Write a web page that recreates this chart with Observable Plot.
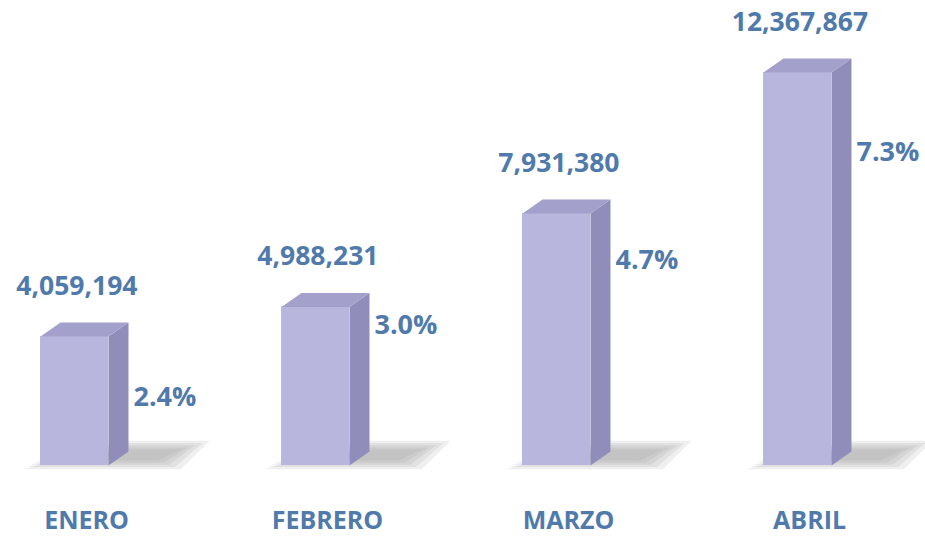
<!DOCTYPE html>
<html>
<head>
<meta charset="utf-8">
<script src="https://cdn.jsdelivr.net/npm/d3@7"></script>
<script src="https://cdn.jsdelivr.net/npm/@observablehq/plot@0.6"></script>
<style>
  html, body { margin: 0; padding: 0; background: #ffffff; }
  #chart { width: 925px; height: 537px; }
  g[aria-label="values"] text { letter-spacing: 1.3px; }
  g[aria-label="shares"] text { letter-spacing: 2.2px; }
  g[aria-label="months"] text { letter-spacing: 1px; }
</style>
</head>
<body>
<div id="chart"></div>
<script>
// ---- data ----
const months = ["ENERO", "FEBRERO", "MARZO", "ABRIL"];
const totals = [4059194, 4988231, 7931380, 12367867];
const shares = [2.4, 3.0, 4.7, 7.3];

// ---- layout (not data) ----
const pctAnchor = [2.15e6, 4.4e6, 6.45e6, 9.85e6]; // vertical anchor of % labels, in value units
const hw = 0.141;      // half bar width in x units
const depthX = 0.083;  // 3D depth in x units
const depthY = 0.44e6; // 3D depth in value units

const rows = months.map((m, i) => ({ i, month: m, total: totals[i], share: shares[i], pctY: pctAnchor[i] }));

const topFaces = [], sideFaces = [], shadowFaces = [];
rows.forEach(d => {
  const x = d.i, v = d.total;
  topFaces.push(
    { z: x, x: x - hw, y: v },
    { z: x, x: x + hw, y: v },
    { z: x, x: x + hw + depthX, y: v + depthY },
    { z: x, x: x - hw + depthX, y: v + depthY }
  );
  sideFaces.push(
    { z: x, x: x + hw, y: 0 },
    { z: x, x: x + hw + depthX, y: depthY },
    { z: x, x: x + hw + depthX, y: v + depthY },
    { z: x, x: x + hw, y: v }
  );
  // layered soft shadow on the floor (5 nested polygons)
  for (let k = 0; k < 5; k++) {
    const ix = k * 0.012, iy = k * 0.07e6;
    const z = `${x}-${k}`;
    shadowFaces.push(
      { z, x: x - hw - 0.07 + ix, y: -0.12e6 + iy },
      { z, x: x + hw + 0.30 - ix * 2, y: -0.12e6 + iy },
      { z, x: x + hw + 0.42 - ix * 2.5, y: 0.78e6 - iy },
      { z, x: x + hw + 0.06 + ix, y: 0.78e6 - iy }
    );
  }
});

const textColor = "#4f7aab";
const font = "'Open Sans', Lato, sans-serif";

const chart = Plot.plot({
  width: 925,
  height: 537,
  marginTop: 0, marginRight: 0, marginBottom: 0, marginLeft: 0,
  x: { type: "linear", domain: [0, 3], range: [74, 797], axis: null },
  y: { type: "linear", domain: [0, 12367867], range: [465, 72], axis: null },
  style: { fontFamily: font, background: "#ffffff", overflow: "visible" },
  marks: [
    Plot.line(shadowFaces, { x: "x", y: "y", z: "z", fill: "#9a9a9e", fillOpacity: 0.16, stroke: "none", curve: "linear-closed" }),
    Plot.rect(rows, { x1: d => d.i - hw, x2: d => d.i + hw, y1: 0, y2: "total", fill: "#b9b6de" }),
    Plot.line(sideFaces, { x: "x", y: "y", z: "z", fill: "#918dbb", stroke: "none", curve: "linear-closed" }),
    Plot.line(topFaces, { x: "x", y: "y", z: "z", fill: "#a3a0cb", stroke: "none", curve: "linear-closed" }),
    Plot.text(rows, {
      x: d => d.i + 0.01, y: "total", dy: -50,
      text: d => d3.format(",")(d.total),
      fill: textColor, fontSize: 26.5, fontWeight: "bold", textAnchor: "middle", ariaLabel: "values"
    }),
    Plot.text(rows, {
      x: d => d.i + hw, y: "pctY", dx: 25,
      text: d => d.share.toFixed(1) + "%",
      fill: textColor, fontSize: 27, fontWeight: "bold", textAnchor: "start", ariaLabel: "shares"
    }),
    Plot.text(rows, {
      x: d => d.i + 0.05, y: 0, dy: 55,
      text: "month",
      fill: textColor, fontSize: 25, fontWeight: "bold", textAnchor: "middle", ariaLabel: "months"
    })
  ]
});

document.getElementById("chart").appendChild(chart);
</script>
</body>
</html>
